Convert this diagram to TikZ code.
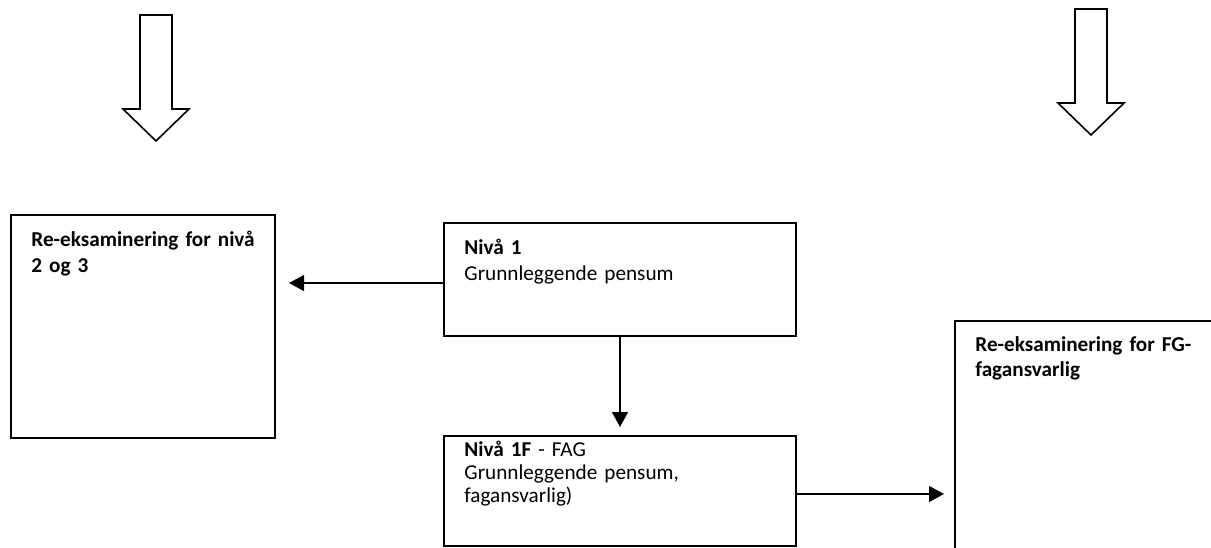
\documentclass[tikz,border=0pt]{standalone}
\usepackage{fontspec}
\setmainfont{Carlito}
\usetikzlibrary{arrows.meta}

\begin{document}
\begin{tikzpicture}[x=0.5pt,y=-0.5pt,
  box/.style={draw=black,line width=1pt,fill=white},
  boxtext/.style={anchor=base west,inner sep=0pt,text width=170pt,align=left,font=\fontsize{10.6}{13}\selectfont},
  conn/.style={draw=black,line width=0.6pt,-{Triangle[length=7.5pt,width=8pt]}},
  hollow/.style={draw=black,line width=0.8pt,fill=white,line join=miter}]
\useasboundingbox (0,0) rectangle (1211,547);
\clip (0,0) rectangle (1211,547);

\foreach \cx/\ty in {156/15,1091/9}
  \draw[hollow] (\cx-16,\ty) -- (\cx+16,\ty) -- (\cx+16,\ty+94) -- (\cx+33,\ty+94) -- (\cx,\ty+126) -- (\cx-33,\ty+94) -- (\cx-16,\ty+94) -- cycle;

\node[box,minimum width=132pt,minimum height=111.5pt] (lbox) at (143,326.5) {};
\node[box,minimum width=176pt,minimum height=56.5pt] (nivaa1) at (620,279.5) {};
\node[box,minimum width=176pt,minimum height=55pt] (nivaa1f) at (620,491) {};
\node[box,minimum width=152.5pt,minimum height=139.5pt] (rbox) at (1107.5,460.5) {};

\node[boxtext] (lbox-t) at ([xshift=10.5pt,yshift=-16pt]lbox.north west) {\textbf{Re-eksaminering for nivå}\\\textbf{2 og 3}};
\node[boxtext] (nivaa1-t) at ([xshift=10.5pt,yshift=-16pt]nivaa1.north west) {\textbf{Nivå 1}\\Grunnleggende pensum};
\node[boxtext] (nivaa1f-t) at ([xshift=10.5pt,yshift=-10.5pt]nivaa1f.north west) {\textbf{Nivå 1F} - FAG\\[-1.5pt]Grunnleggende pensum,\\[-1.5pt]fagansvarlig)};
\node[boxtext] (rbox-t) at ([xshift=10.5pt,yshift=-15.5pt]rbox.north west) {\textbf{Re-eksaminering for FG-}\\[-0.5pt]\textbf{fagansvarlig}};

\coordinate (yl) at (0,283);
\coordinate (yr) at (0,494);
\draw[conn,shorten >=6.5pt] (nivaa1.west |- yl) -- (lbox.east |- yl);
\draw[conn,shorten >=4pt] (nivaa1.south) -- (nivaa1f.north);
\draw[conn,shorten >=5pt] (nivaa1f.east |- yr) -- (rbox.west |- yr);
\end{tikzpicture}
\end{document}
